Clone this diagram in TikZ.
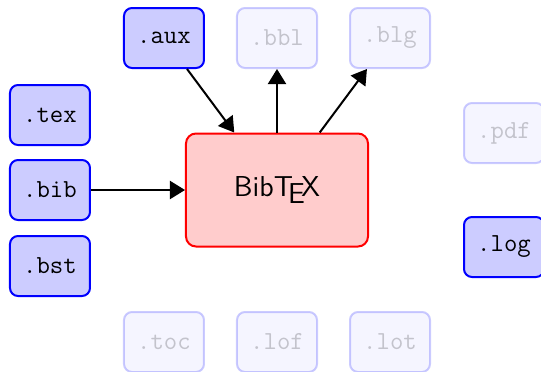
\documentclass[tikz,border=0pt]{standalone}
\usetikzlibrary{arrows.meta}

\tikzset{
    file/.style={draw=blue, fill=blue!20, rounded corners=4pt, line width=1pt,
        minimum width=40pt, minimum height=30pt,
        font=\ttfamily\fontsize{13}{15}\selectfont},
    faded/.style={opacity=0.2, text opacity=0.2},
    prog/.style={draw=red, fill=red!20, rounded corners=5pt, line width=1pt,
        minimum width=91pt, minimum height=56.5pt,
        font=\sffamily\fontsize{14.4}{17}\selectfont},
}

\begin{document}
\begin{tikzpicture}[x=0.5pt,y=0.5pt, >={Triangle[length=7.5pt,width=9pt]}]
    \useasboundingbox (-277,-181) rectangle (264,190);

    \node[prog] (bibtex) at (0,0) {Bib\TeX};

    % files in play
    \foreach \ext/\x/\y in {tex/-227/75, bib/-227/0, bst/-227/-76, aux/-113/152, log/227/-57}{
        \node[file] (\ext) at (\x,\y) {.\ext};
    }
    % the rest, greyed out
    \foreach \ext/\x/\y in {bbl/0/152, blg/113/152, pdf/227/57, toc/-113/-152, lof/0/-152, lot/113/-152}{
        \node[file,faded] (\ext) at (\x,\y) {.\ext};
    }

    \draw[->,line width=1pt] (aux) -- (bibtex);
    \draw[->,line width=1pt] (bib) -- (bibtex);
    \draw[->,line width=1pt] (bibtex) -- (bbl);
    \draw[->,line width=1pt] (bibtex) -- (blg);
\end{tikzpicture}
\end{document}
